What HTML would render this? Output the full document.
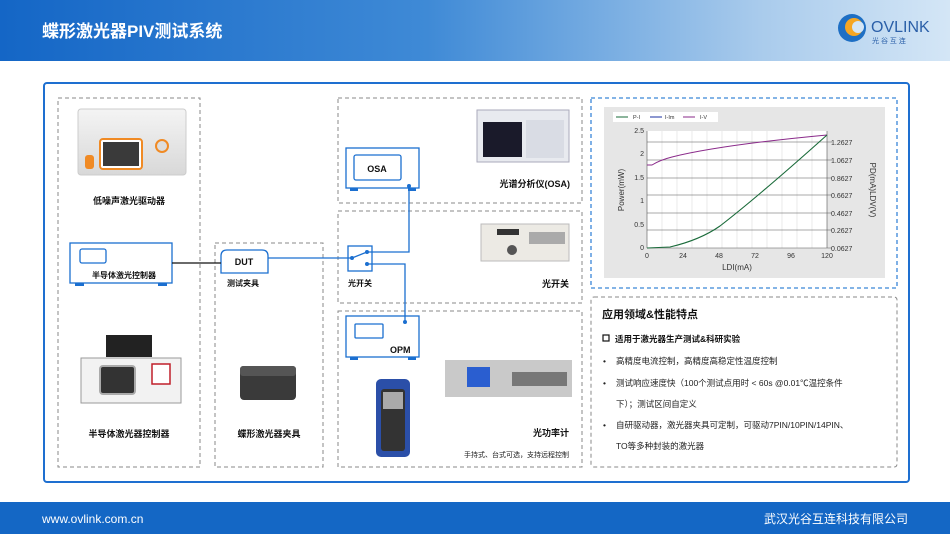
<!DOCTYPE html>
<html><head><meta charset="utf-8"><style>
html,body{margin:0;padding:0;width:950px;height:534px;overflow:hidden;background:#fff}
svg text{font-family:"Liberation Sans","Noto Sans CJK SC",sans-serif}
</style></head><body>
<svg width="950" height="534" viewBox="0 0 950 534" xmlns="http://www.w3.org/2000/svg">
<defs>
<linearGradient id="hd" x1="0" x2="1" y1="0" y2="0">
<stop offset="0" stop-color="#1466c6"/><stop offset="0.45" stop-color="#3f8ad6"/><stop offset="0.8" stop-color="#a9cbec"/><stop offset="1" stop-color="#d4e6f6"/>
</linearGradient>
<linearGradient id="dev" x1="0" x2="0" y1="0" y2="1"><stop offset="0" stop-color="#f4f4f4"/><stop offset="1" stop-color="#d8d8d8"/></linearGradient>
</defs>
<!-- header -->
<rect x="0" y="0" width="950" height="61" fill="url(#hd)"/>
<text x="42" y="37" fill="#fff" font-size="17" font-weight="bold">蝶形激光器PIV测试系统</text>
<!-- logo -->
<circle cx="852" cy="28" r="14" fill="#1e6fc4"/><circle cx="854" cy="27" r="9" fill="#f5a623"/><circle cx="858" cy="27" r="6" fill="#d4e6f6"/>
<text x="871" y="32" fill="#2a5fa8" font-size="16" font-family="Liberation Serif">OVLINK</text>
<text x="872" y="43" fill="#2a5fa8" font-size="7">光 谷 互 连</text>
<!-- footer -->
<rect x="0" y="502" width="950" height="32" fill="#1467c5"/>
<text x="42" y="523" fill="#fff" font-size="12">www.ovlink.com.cn</text>
<text x="908" y="523" fill="#fff" font-size="12" text-anchor="end">武汉光谷互连科技有限公司</text>
<!-- main panel -->
<rect x="44" y="83" width="865" height="399" rx="3" fill="#fff" stroke="#1e6fd0" stroke-width="2"/>
<g fill="none" stroke="#8a8a8a" stroke-width="1" stroke-dasharray="4,3">
<rect x="58" y="98" width="142" height="369"/>
<rect x="215" y="243" width="108" height="224"/>
<rect x="338" y="98" width="244" height="105"/>
<rect x="338" y="211" width="244" height="92"/>
<rect x="338" y="311" width="244" height="156"/>
<rect x="591" y="297" width="306" height="170" rx="3"/>
</g>
<rect x="591" y="98" width="306" height="190" fill="none" stroke="#3a86d8" stroke-width="1.3" stroke-dasharray="4,3"/>
<!-- chart -->
<rect x="604" y="107" width="281" height="171" fill="#e6e6e6"/>
<rect x="613" y="112" width="105" height="10" fill="#fff"/>
<g font-size="5.5" fill="#333">
<line x1="616" y1="117" x2="628" y2="117" stroke="#1a6b3a"/><text x="633" y="119">P-I</text>
<line x1="650" y1="117" x2="662" y2="117" stroke="#1a2fa0"/><text x="665" y="119">I-Im</text>
<line x1="683" y1="117" x2="695" y2="117" stroke="#8a2a8a"/><text x="700" y="119">I-V</text>
</g>
<rect x="647" y="131" width="180" height="117" fill="#fff"/>
<g stroke="#ddd" stroke-width="0.6">
<line x1="662" y1="131" x2="662" y2="248"/><line x1="677" y1="131" x2="677" y2="248"/><line x1="692" y1="131" x2="692" y2="248"/><line x1="707" y1="131" x2="707" y2="248"/><line x1="722" y1="131" x2="722" y2="248"/><line x1="737" y1="131" x2="737" y2="248"/><line x1="752" y1="131" x2="752" y2="248"/><line x1="767" y1="131" x2="767" y2="248"/><line x1="782" y1="131" x2="782" y2="248"/><line x1="797" y1="131" x2="797" y2="248"/><line x1="812" y1="131" x2="812" y2="248"/>
</g>
<g stroke="#555" stroke-width="0.6">
<line x1="647" y1="142" x2="832" y2="142"/><line x1="647" y1="160" x2="832" y2="160"/><line x1="647" y1="178" x2="832" y2="178"/><line x1="647" y1="195" x2="832" y2="195"/><line x1="647" y1="213" x2="832" y2="213"/><line x1="647" y1="230" x2="832" y2="230"/><line x1="647" y1="248" x2="832" y2="248"/>
<line x1="647" y1="131" x2="647" y2="248"/><line x1="827" y1="131" x2="827" y2="248"/>
</g>
<path d="M647,165 L652,165 Q660,160 672,157 Q720,145 827,135" fill="none" stroke="#8a2a8a" stroke-width="1"/>
<path d="M647,248 L670,247 Q700,240 720,226 Q760,195 827,135" fill="none" stroke="#1a6b3a" stroke-width="1.1"/>
<g font-size="7" fill="#333" text-anchor="end">
<text x="644" y="133">2.5</text><text x="644" y="156">2</text><text x="644" y="180">1.5</text><text x="644" y="203">1</text><text x="644" y="227">0.5</text><text x="644" y="250">0</text>
</g>
<g font-size="7" fill="#333">
<text x="831" y="145">1.2627</text><text x="831" y="163">1.0627</text><text x="831" y="181">0.8627</text><text x="831" y="198">0.6627</text><text x="831" y="216">0.4627</text><text x="831" y="233">0.2627</text><text x="831" y="251">0.0627</text>
</g>
<g font-size="7" fill="#333" text-anchor="middle">
<text x="647" y="258">0</text><text x="683" y="258">24</text><text x="719" y="258">48</text><text x="755" y="258">72</text><text x="791" y="258">96</text><text x="827" y="258">120</text>
<text x="737" y="270" font-size="8">LDI(mA)</text>
</g>
<text x="624" y="190" font-size="8" fill="#333" text-anchor="middle" transform="rotate(-90 624 190)">Power(mW)</text>
<text x="870" y="190" font-size="8" fill="#333" text-anchor="middle" transform="rotate(90 870 190)">PD(mA)LDV(V)</text>
<!-- features text -->
<text x="602" y="318" font-size="11" font-weight="bold" fill="#111">应用领域&amp;性能特点</text>
<rect x="603" y="335" width="6" height="6" fill="none" stroke="#111" stroke-width="1.2"/>
<text x="615" y="342" font-size="8.5" font-weight="bold" fill="#111">适用于激光器生产测试&amp;科研实验</text>
<g font-size="8.5" fill="#222">
<text x="603" y="364">•</text><text x="616" y="364">高精度电流控制，高精度高稳定性温度控制</text>
<text x="603" y="386">•</text><text x="616" y="386">测试响应速度快（100个测试点用时 &lt; 60s @0.01℃温控条件</text>
<text x="616" y="407">下）；测试区间自定义</text>
<text x="603" y="428">•</text><text x="616" y="428">自研驱动器，激光器夹具可定制，可驱动7PIN/10PIN/14PIN、</text>
<text x="616" y="449">TO等多种封装的激光器</text>
</g>
<!-- device pictures -->
<rect x="78" y="109" width="108" height="66" rx="3" fill="url(#dev)" stroke="#ccc"/>
<rect x="100" y="139" width="42" height="30" rx="3" fill="#fff" stroke="#f08a24" stroke-width="2"/>
<rect x="103" y="142" width="36" height="24" fill="#3a3a3a"/>
<circle cx="162" cy="146" r="6" fill="#ddd" stroke="#f08a24" stroke-width="2"/>
<rect x="85" y="155" width="9" height="14" rx="3" fill="#f08a24"/>
<text x="129" y="204" font-size="9" font-weight="bold" fill="#111" text-anchor="middle">低噪声激光驱动器</text>

<rect x="106" y="335" width="46" height="22" fill="#222"/>
<rect x="81" y="358" width="100" height="45" fill="#f2f2f2" stroke="#999"/>
<rect x="100" y="366" width="35" height="28" rx="3" fill="#333" stroke="#aaa" stroke-width="2"/>
<rect x="152" y="364" width="18" height="20" fill="#fff" stroke="#c01f2a" stroke-width="1.5"/>
<text x="129" y="437" font-size="9" font-weight="bold" fill="#111" text-anchor="middle">半导体激光器控制器</text>

<rect x="240" y="366" width="56" height="34" rx="4" fill="#3a3a3a"/>
<rect x="240" y="366" width="56" height="10" rx="3" fill="#555"/>
<text x="269" y="437" font-size="9" font-weight="bold" fill="#111" text-anchor="middle">蝶形激光器夹具</text>

<rect x="477" y="110" width="92" height="52" fill="#e8eaef" stroke="#aab"/>
<rect x="483" y="122" width="39" height="35" fill="#1a1a2a"/>
<rect x="526" y="120" width="38" height="38" fill="#d9dce4"/>
<text x="570" y="187" font-size="9" font-weight="bold" fill="#111" text-anchor="end">光谱分析仪(OSA)</text>

<rect x="481" y="224" width="88" height="37" fill="#eceae4" stroke="#bbb"/>
<rect x="497" y="229" width="22" height="6" fill="#333"/>
<circle cx="512" cy="250" r="5" fill="#555"/>
<rect x="529" y="232" width="36" height="12" fill="#aaa"/>
<text x="569" y="287" font-size="9" font-weight="bold" fill="#111" text-anchor="end">光开关</text>

<rect x="445" y="360" width="127" height="37" fill="#c9c9c9"/>
<rect x="467" y="367" width="23" height="20" fill="#2a5ed0"/>
<rect x="512" y="372" width="55" height="14" fill="#777"/>
<rect x="376" y="379" width="34" height="78" rx="5" fill="#2b4fa8"/>
<rect x="381" y="389" width="24" height="62" rx="3" fill="#333"/>
<rect x="383" y="392" width="20" height="17" fill="#aaa"/>
<text x="569" y="436" font-size="9" font-weight="bold" fill="#111" text-anchor="end">光功率计</text>
<text x="569" y="457" font-size="7" fill="#222" text-anchor="end">手持式、台式可选，支持远程控制</text>

<!-- diagram blocks -->
<g fill="#fff" stroke="#1b6fd0" stroke-width="1.3">
<rect x="70" y="243" width="102" height="40"/>
<rect x="80" y="249" width="26" height="14" rx="2"/>
<rect x="346" y="148" width="73" height="40"/>
<rect x="354" y="155" width="47" height="25" rx="2"/>
<rect x="346" y="316" width="73" height="41"/>
<rect x="355" y="324" width="28" height="14" rx="1"/>
<path d="M221,273 L221,256 Q221,250 227,250 L262,250 Q268,250 268,256 L268,273 Z"/>
<rect x="348" y="246" width="24" height="25"/>
</g>
<g fill="#1b6fd0">
<rect x="75" y="283" width="9" height="3"/><rect x="158" y="283" width="9" height="3"/>
<rect x="350" y="188" width="8" height="3"/><rect x="408" y="188" width="8" height="3"/>
<rect x="350" y="357" width="8" height="3"/><rect x="408" y="357" width="8" height="3"/>
</g>
<text x="92" y="278" font-size="8" font-weight="bold" fill="#111">半导体激光控制器</text>
<text x="377" y="172" font-size="9" font-weight="bold" fill="#111" text-anchor="middle">OSA</text>
<text x="390" y="353" font-size="9" font-weight="bold" fill="#111">OPM</text>
<text x="244" y="265" font-size="9" font-weight="bold" fill="#111" text-anchor="middle">DUT</text>
<text x="227" y="286" font-size="8" font-weight="bold" fill="#111">测试夹具</text>
<text x="348" y="286" font-size="8" font-weight="bold" fill="#111">光开关</text>
<!-- connectors -->
<line x1="172" y1="263" x2="221" y2="263" stroke="#111" stroke-width="1.2"/>
<g fill="none" stroke="#1b6fd0" stroke-width="1.3">
<line x1="268" y1="258" x2="352" y2="258"/>
<line x1="352" y1="258" x2="367" y2="252"/>
<polyline points="367,252 409,252 409,186"/>
<polyline points="367,264 405,264 405,322"/>
</g>
<g fill="#1b6fd0">
<circle cx="352" cy="258" r="2"/><circle cx="367" cy="252" r="2"/><circle cx="367" cy="264" r="2"/>
<circle cx="409" cy="186" r="2"/><circle cx="405" cy="322" r="2"/>
</g>
</svg>
</body></html>
